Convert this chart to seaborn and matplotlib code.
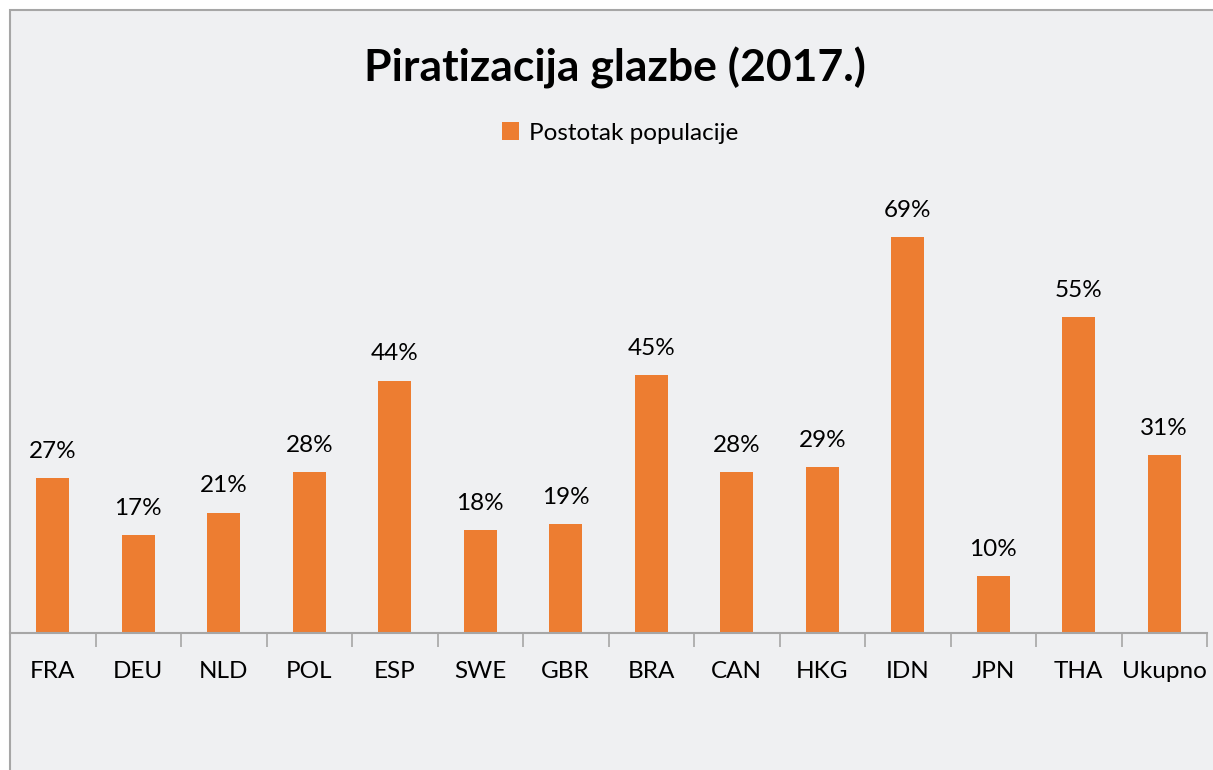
import pandas as pd
import matplotlib.pyplot as plt
import seaborn as sns
from matplotlib.patches import Rectangle

# chart data
countries = ['FRA', 'DEU', 'NLD', 'POL', 'ESP', 'SWE', 'GBR', 'BRA', 'CAN', 'HKG', 'IDN', 'JPN', 'THA', 'Ukupno']
percentages = [27, 17, 21, 28, 44, 18, 19, 45, 28, 29, 69, 10, 55, 31]
series_name = 'Postotak populacije'
title = 'Piratizacija glazbe (2017.)'

W, H = 1213, 770
bg = '#eff0f2'
orange = '#ed7d31'
grey = '#a6a6a6'

sns.set_style('white')
plt.rcParams['font.family'] = ['Lato', 'DejaVu Sans']
plt.rcParams['text.color'] = 'black'

df = pd.DataFrame({'Zemlja': countries, 'Postotak': percentages, 'Serija': series_name})

fig = plt.figure(figsize=(W / 100, H / 100), dpi=100)
fig.patch.set_facecolor('white')
# grey chart area, border visible only on top and left
fig.patches.append(Rectangle((10 / W, -0.2), 1.2, (H - 10) / H + 0.2, transform=fig.transFigure,
                             facecolor=bg, edgecolor=grey, linewidth=1.5, zorder=-5))

ax = fig.add_axes([10 / W, (H - 633) / H, (1207 - 10) / W, (633 - 174) / H])
ax.set_facecolor('none')
sns.barplot(data=df, x='Zemlja', y='Postotak', hue='Serija', palette={series_name: orange},
            width=0.39, saturation=1, linewidth=0, ax=ax, legend=True)

ax.set_xlim(-0.5, len(countries) - 0.5)
ax.set_ylim(0, 80)
ax.set_xlabel('')
ax.set_ylabel('')
ax.set_yticks([])
for s in ['top', 'left', 'right']:
    ax.spines[s].set_visible(False)
ax.spines['bottom'].set_color(grey)
ax.spines['bottom'].set_linewidth(1.5)

ax.tick_params(axis='x', which='major', length=0, pad=20, labelsize=17.5, labelcolor='black')
ax.set_xticks([i - 0.5 for i in range(len(countries) + 1)], minor=True)
ax.tick_params(axis='x', which='minor', bottom=True, length=10, width=1.2, color=grey, direction='out')

for i, v in enumerate(percentages):
    ax.text(i, v + 2.8, f'{v}%', ha='center', va='bottom', fontsize=17.5, color='black')

fig.text(615 / W, 1 - 68 / H, title, ha='center', va='center', fontsize=32, fontweight='bold',
         color='black')

leg = ax.legend(loc='center', bbox_to_anchor=(620 / W, 1 - 133 / H), bbox_transform=fig.transFigure,
                frameon=False, fontsize=17.5, handlelength=0.7, handleheight=0.7, handletextpad=0.4)
for t in leg.get_texts():
    t.set_color('black')

fig.savefig('out.png', dpi=100, facecolor='white')
